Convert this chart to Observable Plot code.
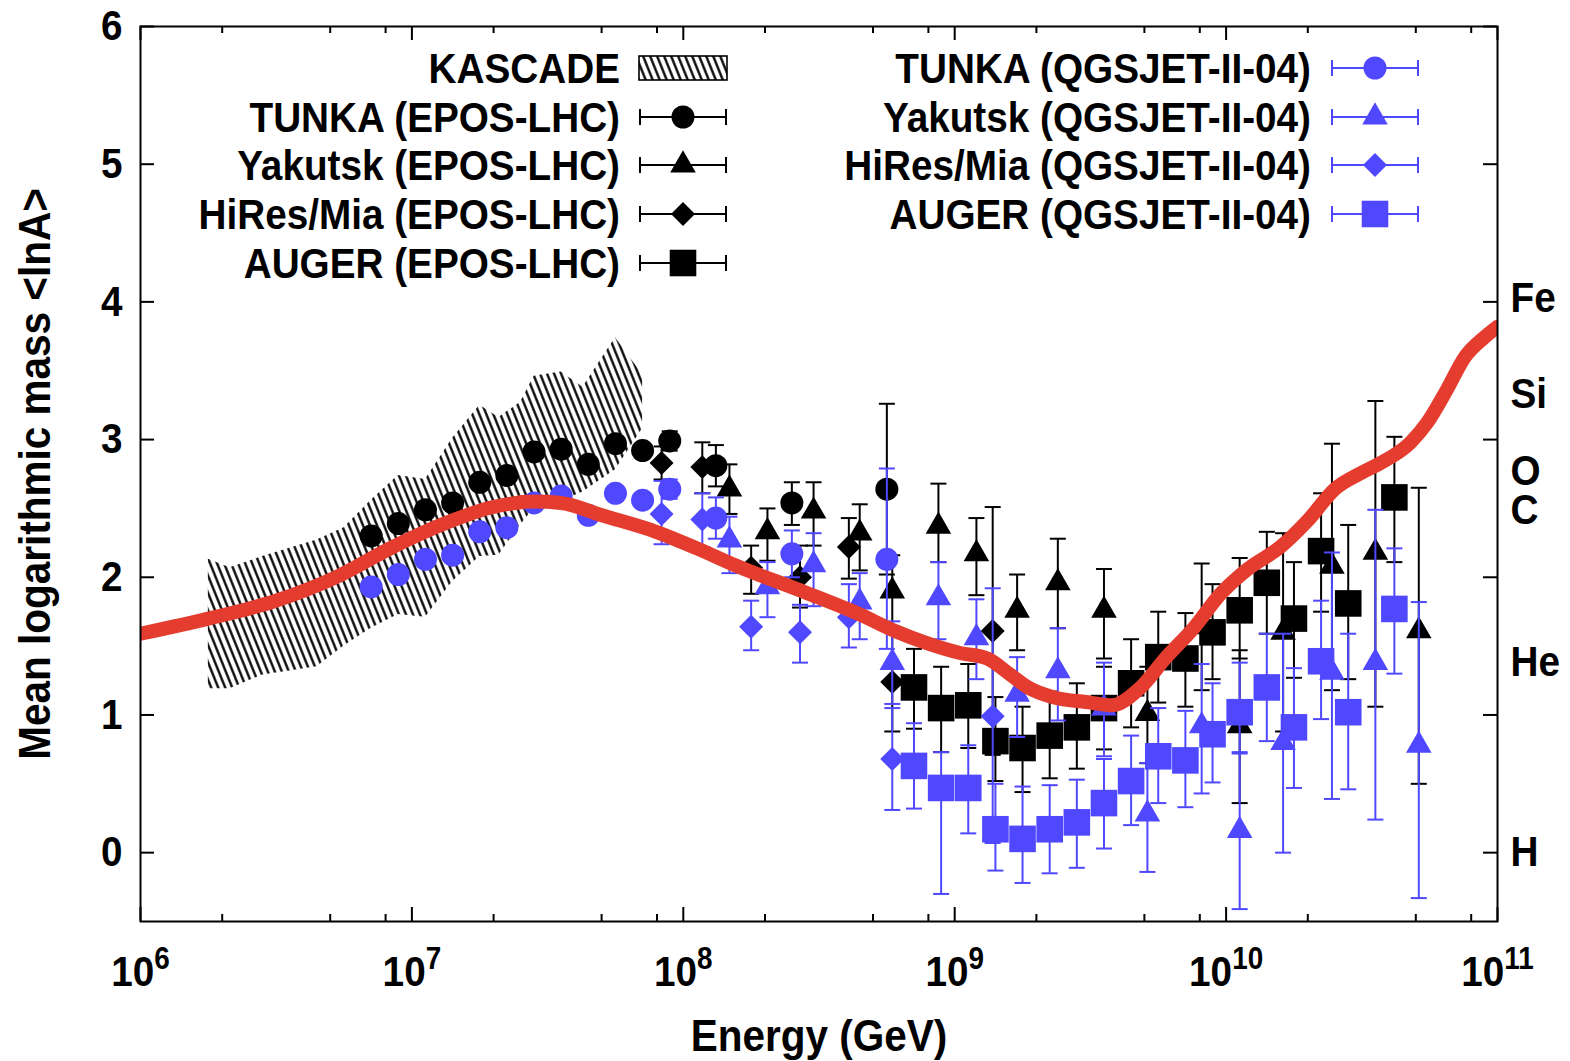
<!DOCTYPE html>
<html><head><meta charset="utf-8">
<script src="https://cdn.jsdelivr.net/npm/d3@7"></script>
<script src="https://cdn.jsdelivr.net/npm/@observablehq/plot@0.6"></script>
<style>html,body{margin:0;padding:0;background:#fff;} #chart{width:1570px;height:1061px;}</style>
</head><body><div id="chart"></div>
<script>
// ---------- data (log10 of energy in GeV, <lnA>) ----------
const kascadeLgE = [6.25, 6.33, 6.45, 6.55, 6.65, 6.75, 6.85, 6.95, 7.05, 7.15, 7.25, 7.32, 7.40, 7.45, 7.55, 7.63, 7.75, 7.85];
const kascadeHi  = [2.13, 2.07, 2.15, 2.21, 2.27, 2.36, 2.56, 2.74, 2.71, 3.01, 3.25, 3.16, 3.27, 3.46, 3.49, 3.38, 3.74, 3.47];
const kascadeLo  = [1.19, 1.19, 1.29, 1.32, 1.35, 1.50, 1.63, 1.73, 1.71, 1.97, 2.15, 2.16, 2.38, 2.50, 2.55, 2.62, 2.78, 3.08];

const tunkaLgE    = [6.85, 6.95, 7.05, 7.15, 7.25, 7.35, 7.45, 7.55, 7.65, 7.75, 7.85, 7.95, 8.12, 8.40, 8.75];
const tunkaEpos   = [2.30, 2.39, 2.49, 2.54, 2.69, 2.74, 2.91, 2.93, 2.82, 2.97, 2.92, 2.99, 2.81, 2.54, 2.64];
const tunkaEposLo = [null, null, null, null, null, null, null, null, null, null, null, 2.92, 2.66, 2.38, 2.02];
const tunkaEposHi = [null, null, null, null, null, null, null, null, null, null, null, 3.06, 2.96, 2.69, 3.26];
const tunkaQgs    = [1.93, 2.02, 2.13, 2.16, 2.33, 2.36, 2.54, 2.59, 2.45, 2.61, 2.56, 2.64, 2.43, 2.17, 2.13];
const tunkaQgsLo  = [null, null, null, null, null, null, null, null, null, null, null, 2.57, 2.28, 2.00, 1.48];
const tunkaQgsHi  = [null, null, null, null, null, null, null, null, null, null, null, 2.71, 2.58, 2.34, 2.79];

const yakLgE    = [8.17, 8.31, 8.48, 8.65, 8.77, 8.94, 9.08, 9.23, 9.38, 9.55, 9.71, 9.91, 10.05, 10.21, 10.39, 10.55, 10.71];
const yakEpos   = [2.64, 2.33, 2.48, 2.32, 1.90, 2.37, 2.17, 1.76, 1.96, 1.76, 1.01, 1.64, 0.92, 1.60, 2.08, 2.18, 1.61];
const yakEposLo = [2.46, 2.12, 2.23, 2.05, 1.64, 2.11, 1.87, 1.47, 1.63, 1.41, 0.65, 1.18, 0.36, 0.88, 1.18, 1.06, 0.50];
const yakEposHi = [2.82, 2.50, 2.69, 2.53, 2.16, 2.68, 2.43, 2.02, 2.28, 2.06, 1.35, 2.10, 1.47, 2.32, 2.97, 3.28, 2.65];
const yakQgs    = [2.27, 1.93, 2.09, 1.82, 1.38, 1.85, 1.56, 1.15, 1.32, 1.05, 0.28, 0.92, 0.16, 0.80, 1.31, 1.38, 0.78];
const yakQgsLo  = [2.03, 1.71, 1.79, 1.55, 1.08, 1.55, 1.26, 0.84, 0.96, 0.70, -0.14, 0.43, -0.41, 0.00, 0.39, 0.24, -0.33];
const yakQgsHi  = [2.44, 2.11, 2.32, 2.03, 1.68, 2.11, 1.84, 1.42, 1.63, 1.38, 0.65, 1.37, 0.73, 1.59, 2.18, 2.49, 1.82];

const hiresLgE    = [7.92, 8.07, 8.25, 8.43, 8.61, 8.77, 9.14];
const hiresEpos   = [2.83, 2.80, 2.07, 2.00, 2.22, 1.24, 1.61];
const hiresEposLo = [2.71, 2.61, 1.88, 1.78, 1.99, 0.88, 0.71];
const hiresEposHi = [2.95, 2.98, 2.23, 2.23, 2.43, 1.60, 2.51];
const hiresQgs    = [2.46, 2.42, 1.64, 1.60, 1.71, 0.68, 0.99];
const hiresQgsLo  = [2.24, 2.22, 1.47, 1.38, 1.49, 0.31, 0.07];
const hiresQgsHi  = [2.70, 2.61, 1.83, 1.80, 1.95, 1.05, 1.92];

const augerLgE    = [8.85, 8.95, 9.05, 9.15, 9.25, 9.35, 9.45, 9.55, 9.65, 9.75, 9.85, 9.95, 10.05, 10.15, 10.25, 10.35, 10.45, 10.62];
const augerEpos   = [1.20, 1.05, 1.07, 0.81, 0.76, 0.85, 0.91, 1.05, 1.23, 1.42, 1.41, 1.60, 1.76, 1.96, 1.70, 2.19, 1.81, 2.58];
const augerEposLo = [0.90, 0.73, 0.76, 0.52, 0.44, 0.54, 0.61, 0.75, 0.91, 1.09, 1.06, 1.26, 1.41, 1.59, 1.27, 1.75, 1.26, 2.11];
const augerEposHi = [1.48, 1.35, 1.37, 1.13, 1.06, 1.17, 1.23, 1.35, 1.55, 1.75, 1.74, 1.95, 2.14, 2.33, 2.11, 2.61, 2.38, 3.02];
const augerQgs    = [0.63, 0.47, 0.47, 0.17, 0.10, 0.17, 0.22, 0.36, 0.52, 0.70, 0.67, 0.86, 1.02, 1.20, 0.91, 1.39, 1.02, 1.77];
const augerQgsLo  = [0.32, -0.30, 0.14, -0.13, -0.22, -0.15, -0.11, 0.03, 0.20, 0.36, 0.33, 0.51, 0.72, 0.81, 0.47, 0.97, 0.46, 1.30];
const augerQgsHi  = [0.94, 0.73, 0.78, 0.50, 0.48, 0.49, 0.53, 0.68, 0.85, 1.05, 1.03, 1.23, 1.38, 1.59, 1.34, 1.83, 1.59, 2.21];

const curveLgE = [6.0, 6.25, 6.5, 6.72, 6.92, 7.12, 7.3, 7.45, 7.55, 7.7, 7.9, 8.05, 8.2, 8.45, 8.65, 8.78, 8.9, 9.02, 9.12, 9.2, 9.27, 9.36, 9.5, 9.58, 9.68, 9.78, 9.88, 9.98, 10.08, 10.2, 10.3, 10.4, 10.5, 10.56, 10.68, 10.74, 10.81, 10.88, 10.95, 11.0];
const curveLnA = [1.59, 1.70, 1.83, 2.00, 2.21, 2.39, 2.51, 2.55, 2.54, 2.45, 2.33, 2.21, 2.08, 1.89, 1.73, 1.61, 1.52, 1.45, 1.41, 1.30, 1.20, 1.13, 1.09, 1.07, 1.19, 1.42, 1.63, 1.88, 2.06, 2.22, 2.41, 2.64, 2.76, 2.82, 2.98, 3.12, 3.35, 3.60, 3.74, 3.82];

const yTicks = [0, 1, 2, 3, 4, 5, 6];
const elementNames = ["H", "He", "C", "O", "Si", "Fe"];
const elementLnA   = [0, 1.386, 2.485, 2.773, 3.332, 4.025];
const xMajorTicks = [1e6, 1e7, 1e8, 1e9, 1e10, 1e11];
const xTickExps   = ["6", "7", "8", "9", "10", "11"];
const xMinorTicks = [2e6, 5e6, 8e6, 2e7, 5e7, 8e7, 2e8, 5e8, 8e8, 2e9, 5e9, 8e9, 2e10, 5e10, 8e10];

const legendLeft = ["KASCADE", "TUNKA (EPOS-LHC)", "Yakutsk (EPOS-LHC)", "HiRes/Mia (EPOS-LHC)", "AUGER (EPOS-LHC)"];
const legendRight = ["TUNKA (QGSJET-II-04)", "Yakutsk (QGSJET-II-04)", "HiRes/Mia (QGSJET-II-04)", "AUGER (QGSJET-II-04)"];

// ---------- layout ----------
const W = 1570, H = 1061;
const M = {top: 26, right: 73, bottom: 140, left: 140};
const plotW = W - M.left - M.right, plotH = H - M.top - M.bottom;
const BLACK = "#000000", BLUE = "#5048ff", RED = "#e43d30";
const FONT = "'Liberation Sans', Arial, Helvetica, sans-serif";
const FS = 43;

function rows(lgE, v, lo, hi) {
  return lgE.map((g, i) => ({E: Math.pow(10, g), v: v[i], lo: lo ? lo[i] : null, hi: hi ? hi[i] : null}));
}
const kascade = rows(kascadeLgE, kascadeHi, kascadeLo, kascadeHi);
const curve = rows(curveLgE, curveLnA);
const elements = elementNames.map((n, i) => ({name: n, lnA: elementLnA[i]}));

const capSymbol = {draw(ctx) { ctx.moveTo(-8, 0); ctx.lineTo(8, 0); }};
const R = {circle: 11.5, triangle: 9.5, diamond2: 10.8, square: 15};

function series(data, color, symbol) {
  const err = data.filter(d => d.lo != null && d.hi != null);
  return [
    Plot.ruleX(err, {x: "E", y1: "lo", y2: "hi", stroke: color, strokeWidth: 2}),
    Plot.dot(err, {x: "E", y: "lo", symbol: capSymbol, r: 5, stroke: color, strokeWidth: 2, fill: "none"}),
    Plot.dot(err, {x: "E", y: "hi", symbol: capSymbol, r: 5, stroke: color, strokeWidth: 2, fill: "none"}),
    Plot.dot(data, {x: "E", y: "v", symbol, r: R[symbol], fill: color, stroke: "none"})
  ];
}

const svg = Plot.plot({
  width: W, height: H,
  marginTop: M.top, marginRight: M.right, marginBottom: M.bottom, marginLeft: M.left,
  style: {fontFamily: FONT, fontWeight: "bold", fontSize: FS + "px", background: "white", overflow: "visible", color: "black"},
  x: {type: "log", domain: [1e6, 1e11], axis: null},
  y: {domain: [-0.5, 6], axis: null},
  marks: [
    Plot.areaY(kascade, {x: "E", y1: "lo", y2: "hi", fill: "url(#hatch)"}),
    ...series(rows(tunkaLgE, tunkaEpos, tunkaEposLo, tunkaEposHi), BLACK, "circle"),
    ...series(rows(yakLgE, yakEpos, yakEposLo, yakEposHi), BLACK, "triangle"),
    ...series(rows(hiresLgE, hiresEpos, hiresEposLo, hiresEposHi), BLACK, "diamond2"),
    ...series(rows(augerLgE, augerEpos, augerEposLo, augerEposHi), BLACK, "square"),
    ...series(rows(tunkaLgE, tunkaQgs, tunkaQgsLo, tunkaQgsHi), BLUE, "circle"),
    ...series(rows(yakLgE, yakQgs, yakQgsLo, yakQgsHi), BLUE, "triangle"),
    ...series(rows(hiresLgE, hiresQgs, hiresQgsLo, hiresQgsHi), BLUE, "diamond2"),
    ...series(rows(augerLgE, augerQgs, augerQgsLo, augerQgsHi), BLUE, "square"),
    Plot.line(curve, {x: "E", y: "v", stroke: RED, strokeWidth: 14, curve: "monotone-x", clip: true}),
    // ticks (inward, all four sides)
    Plot.tickY(yTicks, {y: d => d, insetRight: plotW - 14, stroke: BLACK, strokeWidth: 2}),
    Plot.tickY(yTicks, {y: d => d, insetLeft: plotW - 14, stroke: BLACK, strokeWidth: 2}),
    Plot.tickX(xMajorTicks, {x: d => d, insetTop: plotH - 14, stroke: BLACK, strokeWidth: 2}),
    Plot.tickX(xMajorTicks, {x: d => d, insetBottom: plotH - 14, stroke: BLACK, strokeWidth: 2}),
    Plot.tickX(xMinorTicks, {x: d => d, insetTop: plotH - 7, stroke: BLACK, strokeWidth: 2}),
    Plot.tickX(xMinorTicks, {x: d => d, insetBottom: plotH - 7, stroke: BLACK, strokeWidth: 2}),
    Plot.frame({stroke: BLACK, strokeWidth: 2}),
    // tick labels
    Plot.text(yTicks, {y: d => d, text: d => String(d), frameAnchor: "left", textAnchor: "end", dx: -18, fontSize: FS, fontWeight: "bold", fill: BLACK}),
    Plot.text(elements, {y: "lnA", text: "name", frameAnchor: "right", textAnchor: "start", dx: 13, fontSize: FS, fontWeight: "bold", fill: BLACK}),
    Plot.text(xMajorTicks, {x: d => d, text: () => "10", frameAnchor: "bottom", lineAnchor: "bottom", textAnchor: "middle", dy: 64, fontSize: FS, fontWeight: "bold", fill: BLACK}),
    // axis titles
    Plot.text(["Energy (GeV)"], {frameAnchor: "bottom", lineAnchor: "bottom", textAnchor: "middle", dy: 129, fontSize: 45, fontWeight: "bold", fill: BLACK}),
    Plot.text(["Mean logarithmic mass <lnA>"], {frameAnchor: "left", textAnchor: "middle", rotate: -90, dx: -105, fontSize: 45, fontWeight: "bold", fill: BLACK})
  ]
});

document.getElementById("chart").appendChild(svg);
const sel = d3.select(svg);

// superscript exponents on the x tick labels (10^n)
let k = 0;
sel.selectAll("text").each(function () {
  if (this.textContent === "10" && k < xTickExps.length) {
    d3.select(this).append("tspan").attr("dy", "-0.54em").attr("font-size", "0.72em").text(xTickExps[k++]);
  }
});

// hatch pattern
const defs = sel.insert("defs", ":first-child");
const pat = defs.append("pattern").attr("id", "hatch").attr("patternUnits", "userSpaceOnUse")
  .attr("width", 6.5).attr("height", 6.5).attr("patternTransform", "rotate(-22)");
pat.append("line").attr("x1", 3.25).attr("x2", 3.25).attr("y1", -1).attr("y2", 7.5)
  .attr("stroke", "#000").attr("stroke-width", 2.3);

// legend (pixel layout)
const leg = sel.append("g").attr("font-family", FONT).attr("font-weight", "bold").attr("font-size", FS);
const symTypes = {circle: d3.symbolCircle, triangle: d3.symbolTriangle, diamond2: d3.symbolDiamond2, square: d3.symbolSquare};
function entry(textX, x1, x2, y, label, color, sym) {
  leg.append("text").attr("x", textX).attr("y", y).attr("dy", "0.35em").attr("text-anchor", "end").attr("fill", BLACK).text(label);
  if (sym === "hatch") {
    leg.append("rect").attr("x", x1 - 1).attr("y", y - 12).attr("width", x2 - x1 + 2).attr("height", 24)
      .attr("fill", "url(#hatch)").attr("stroke", BLACK).attr("stroke-width", 1.6);
    return;
  }
  leg.append("line").attr("x1", x1).attr("x2", x2).attr("y1", y).attr("y2", y).attr("stroke", color).attr("stroke-width", 2);
  leg.append("line").attr("x1", x1).attr("x2", x1).attr("y1", y - 8).attr("y2", y + 8).attr("stroke", color).attr("stroke-width", 2);
  leg.append("line").attr("x1", x2).attr("x2", x2).attr("y1", y - 8).attr("y2", y + 8).attr("stroke", color).attr("stroke-width", 2);
  const r = R[sym];
  leg.append("path").attr("transform", `translate(${(x1 + x2) / 2},${y})`)
    .attr("d", d3.symbol(symTypes[sym], Math.PI * r * r)()).attr("fill", color);
}
const rowY = [68, 117, 165, 214, 263];
const leftSyms = ["hatch", "circle", "triangle", "diamond2", "square"];
const rightSyms = ["circle", "triangle", "diamond2", "square"];
legendLeft.forEach((lab, i) => entry(620, 640, 726, rowY[i], lab, BLACK, leftSyms[i]));
legendRight.forEach((lab, i) => entry(1311, 1332, 1418, rowY[i], lab, BLUE, rightSyms[i]));

// condense all text horizontally (narrow bold face in the original)
svg.querySelectorAll("text").forEach(t => {
  const w = t.getComputedTextLength();
  if (w > 0) {
    t.setAttribute("textLength", (w * 0.9).toFixed(1));
    t.setAttribute("lengthAdjust", "spacingAndGlyphs");
  }
});
</script>
</body></html>
